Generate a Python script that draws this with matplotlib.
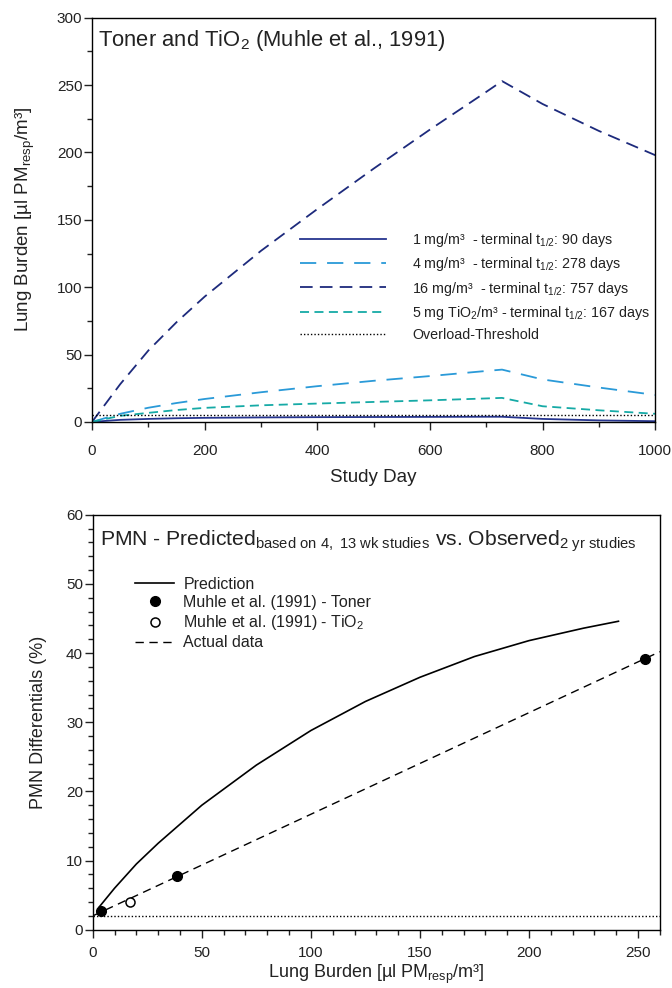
import numpy as np
import matplotlib
matplotlib.use("Agg")
import matplotlib.pyplot as plt
from matplotlib.ticker import MultipleLocator

plt.rcParams["font.family"] = ["Liberation Sans", "DejaVu Sans"]
plt.rcParams["mathtext.fontset"] = "custom"
plt.rcParams["mathtext.rm"] = "Liberation Sans"
plt.rcParams["mathtext.it"] = "Liberation Sans:italic"
plt.rcParams["text.color"] = "#222222"
plt.rcParams["axes.labelcolor"] = "#222222"
plt.rcParams["xtick.color"] = "#222222"
plt.rcParams["ytick.color"] = "#222222"

# top panel: lung burden vs study day
days = [0, 50, 100, 150, 200, 300, 400, 500, 600, 700, 728, 800, 900, 1000]
burden_1mg = [0, 1.5, 2.2, 2.7, 3.0, 3.3, 3.5, 3.6, 3.7, 3.8, 3.8, 2.2, 1.1, 0.5]
burden_4mg = [0, 6.0, 10.5, 14.0, 17.0, 22.0, 26.5, 30.5, 34.0, 37.8, 38.8, 31.5, 25.5, 20.0]
burden_16mg = [0, 28, 53, 74, 93, 127, 158, 188, 217, 245, 253, 236, 216, 198]
burden_tio2 = [0, 4.5, 6.7, 8.8, 10.4, 12.3, 13.6, 14.8, 16.0, 17.4, 17.8, 11.6, 8.6, 6.0]
overload_threshold = 5.0

# bottom panel: PMN prediction vs observation
pred_burden = [3, 10, 20, 30, 50, 75, 100, 125, 150, 175, 200, 225, 241]
pred_pmn = [3.3, 6.0, 9.5, 12.5, 18.0, 23.8, 28.8, 33.0, 36.5, 39.5, 41.8, 43.6, 44.6]
toner_burden = [3.8, 38.5, 253]
toner_pmn = [2.7, 7.8, 39.2]
tio2_burden = [17.3]
tio2_pmn = [4.0]
actual_burden = [0, 260]
actual_pmn = [2.0, 40.2]
pmn_threshold = 2.0

fig = plt.figure(figsize=(6.72, 9.88), dpi=100)
ax1 = fig.add_axes([0.137, 0.573, 0.838, 0.409])
ax2 = fig.add_axes([0.138, 0.059, 0.844, 0.420])

c1 = "#26358f"
c4 = "#2a9ad8"
c16 = "#1d2a7c"
ct = "#16aaa6"

ax1.plot(days, burden_1mg, color=c1, lw=1.3, label="1 mg/m³  - terminal t$_{1/2}$: 90 days")
ax1.plot(days, burden_4mg, color=c4, lw=1.3, dashes=(9, 6), label="4 mg/m³  - terminal t$_{1/2}$: 278 days")
ax1.plot(days, burden_16mg, color=c16, lw=1.3, dashes=(7, 4), label="16 mg/m³  - terminal t$_{1/2}$: 757 days")
ax1.plot(days, burden_tio2, color=ct, lw=1.3, dashes=(5, 3), label="5 mg TiO$_2$/m³ - terminal t$_{1/2}$: 167 days")
ax1.axhline(overload_threshold, color="black", lw=1.0, ls=(0, (1, 1.5)), label="Overload-Threshold")

ax1.set_xlim(0, 1000)
ax1.set_ylim(0, 300)
ax1.xaxis.set_major_locator(MultipleLocator(200))
ax1.xaxis.set_minor_locator(MultipleLocator(100))
ax1.yaxis.set_major_locator(MultipleLocator(50))
ax1.yaxis.set_minor_locator(MultipleLocator(25))
ax1.set_xlabel("Study Day", fontsize=13.5, labelpad=8)
ax1.set_ylabel("Lung Burden [µl PM$_{\\mathrm{resp}}$/m³]", fontsize=13.5, labelpad=14)
ax1.text(0.01, 0.975, "Toner and TiO$_2$ (Muhle et al., 1991)", transform=ax1.transAxes,
         fontsize=15.8, va="top", ha="left")
ax1.legend(loc="center right", bbox_to_anchor=(1.014, 0.335), frameon=False, fontsize=10.3,
           handlelength=6.0, handletextpad=1.8, labelspacing=0.45)

ax2.plot(pred_burden, pred_pmn, color="black", lw=1.2, label="Prediction")
ax2.plot(toner_burden, toner_pmn, "o", color="black", ms=7, ls="none", label="Muhle et al. (1991) - Toner")
ax2.plot(tio2_burden, tio2_pmn, "o", mfc="white", mec="black", mew=1.1, ms=6.5, ls="none",
         label="Muhle et al. (1991) - TiO$_2$")
ax2.plot(actual_burden, actual_pmn, color="black", lw=1.0, dashes=(6, 4), label="Actual data", zorder=1)
ax2.axhline(pmn_threshold, color="black", lw=1.0, ls=(0, (1, 1.5)))

ax2.set_xlim(0, 260)
ax2.set_ylim(0, 60)
ax2.xaxis.set_major_locator(MultipleLocator(50))
ax2.xaxis.set_minor_locator(MultipleLocator(10))
ax2.yaxis.set_major_locator(MultipleLocator(10))
ax2.yaxis.set_minor_locator(MultipleLocator(2))
ax2.set_xlabel("Lung Burden [µl PM$_{\\mathrm{resp}}$/m³]", fontsize=13, labelpad=2)
ax2.set_ylabel("PMN Differentials (%)", fontsize=13, labelpad=14)
ax2.text(0.012, 0.925, "PMN - Predicted$_{\\mathrm{based\\ on\\ 4,\\ 13\\ wk\\ studies}}$ vs. Observed$_{\\mathrm{2\\ yr\\ studies}}$",
         transform=ax2.transAxes, fontsize=15.2, va="baseline", ha="left")
ax2.legend(loc="upper left", bbox_to_anchor=(0.05, 0.885), frameon=False, fontsize=11.5,
           handlelength=2.4, handletextpad=0.6, labelspacing=0.2)

for ax in (ax1, ax2):
    ax.tick_params(which="major", direction="out", length=6, width=1, labelsize=11, pad=1)
    ax.tick_params(which="minor", direction="out", length=3.5, width=1)
    for s in ax.spines.values():
        s.set_linewidth(1.0)
ax1.tick_params(axis="x", which="major", pad=10)
ax2.tick_params(axis="x", which="major", pad=6)

fig.savefig("out.png", dpi=100)
